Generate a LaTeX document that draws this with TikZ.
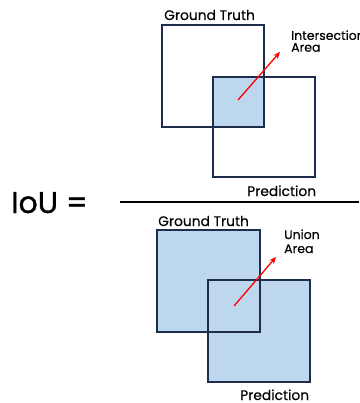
\documentclass[tikz,border=0pt]{standalone}
\usepackage{fontspec}
\setmainfont{Poppins}[FakeBold=0.35]
\newfontfamily\ioufont{Poppins}[FakeBold=1.2]
\usetikzlibrary{arrows.meta}
\definecolor{navy}{HTML}{1F2D4D}
\definecolor{lblue}{HTML}{BDD7EE}
\begin{document}
\begin{tikzpicture}[x=1pt,y=-1pt,
  box/.style={draw=navy,line width=1.6pt},
  lbl/.style={font=\fontsize{13.8}{14}\selectfont,inner sep=0pt,anchor=base west},
  sm/.style={inner sep=0pt,anchor=base west,align=left},
  arr/.style={red,line width=1.3pt,-{Stealth[length=7pt,width=6pt]}}]
\useasboundingbox (0,0) rectangle (359,403);
% top
\fill[lblue] (213,77) rectangle (264,127);
\draw[box] (162,25) rectangle (264,127);
\draw[box] (213,77) rectangle (315,177);
\coordinate (a1) at (238,100);
\coordinate (a2) at (280,52);
\draw[arr] (a1) -- (a2);
\node[lbl] (gt1) at (164,20) {Ground Truth};
\node[sm,font=\fontsize{12.5}{11.8}\selectfont] (int) at (291,51.7) {Intersection\\Area};
\node[lbl] (pr1) at (247,196) {Prediction};
% fraction
\node[inner sep=0pt,anchor=base west,font=\ioufont\fontsize{30}{32}\selectfont] (iou) at (11,213) {IoU =};
\coordinate (f1) at (120,202);
\coordinate (f2) at (359,202);
\draw[line width=2pt] (f1) -- (f2);
% bottom
\fill[lblue] (157,230) rectangle (260,332);
\fill[lblue] (208,280) rectangle (310,382);
\draw[box] (157,230) rectangle (260,332);
\draw[box] (208,280) rectangle (310,382);
\coordinate (b1) at (234,306);
\coordinate (b2) at (276,257);
\draw[arr] (b1) -- (b2);
\node[lbl] (gt2) at (158,226) {Ground Truth};
\node[sm,font=\fontsize{12.5}{14}\selectfont] (uni) at (284,253) {Union\\Area};
\node[lbl] (pr2) at (240,400) {Prediction};
\end{tikzpicture}
\end{document}
